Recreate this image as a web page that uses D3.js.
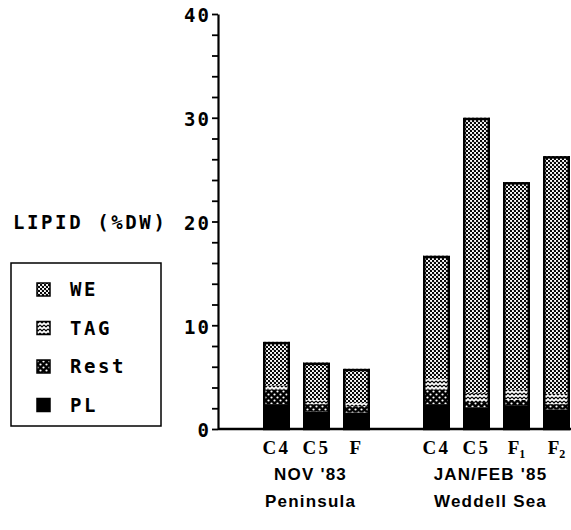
<!DOCTYPE html>
<html><head><meta charset="utf-8">
<script src="https://cdn.jsdelivr.net/npm/d3@7"></script>
<style>body{margin:0;background:#fff}</style>
</head><body>
<svg id="chart" width="571" height="530"></svg>
<script>
// Lipid composition (% dry weight) of copepodite stages
const barIds      = ["N-C4", "N-C5", "N-F", "W-C4", "W-C5", "W-F1", "W-F2"];
const stageLabels = ["C4", "C5", "F", "C4", "C5", "F1", "F2"];
const groupOf     = [0, 0, 0, 1, 1, 1, 1];
const groupLines  = [["NOV '83", "Peninsula"], ["JAN/FEB '85", "Weddell Sea"]];

const PL   = [2.4, 1.7, 1.6, 2.4, 2.1, 2.3, 1.9];
const Rest = [1.4, 0.7, 0.6, 1.4, 0.5, 0.5, 0.5];
const TAG  = [0.4, 0.4, 0.3, 1.0, 0.9, 1.0, 1.0];
const WE   = [4.2, 3.6, 3.3, 11.9, 26.5, 20.0, 22.9];

const yMajor = [0, 10, 20, 30, 40];
const yMinorStep = 2;
const legendKeys = ["WE", "TAG", "Rest", "PL"];
const stackKeys = ["PL", "Rest", "TAG", "WE"];

const svg = d3.select("#chart");
const MONO = "'DejaVu Sans Mono', 'Liberation Mono', monospace";

// fill patterns
const defs = svg.append("defs");
const pWE = defs.append("pattern").attr("id", "pat-WE").attr("patternUnits", "userSpaceOnUse")
  .attr("width", 4).attr("height", 4);
pWE.append("rect").attr("width", 4).attr("height", 4).attr("fill", "#fff");
pWE.append("circle").attr("cx", 1).attr("cy", 1).attr("r", 1.2).attr("fill", "#000");
pWE.append("circle").attr("cx", 3).attr("cy", 3).attr("r", 1.2).attr("fill", "#000");

const pTAG = defs.append("pattern").attr("id", "pat-TAG").attr("patternUnits", "userSpaceOnUse")
  .attr("width", 4).attr("height", 4);
pTAG.append("rect").attr("width", 4).attr("height", 4).attr("fill", "#fff");
pTAG.append("path").attr("d", "M0,1 L2,3 L4,1").attr("stroke", "#000").attr("stroke-width", 1.2).attr("fill", "none");

const pRest = defs.append("pattern").attr("id", "pat-Rest").attr("patternUnits", "userSpaceOnUse")
  .attr("width", 6).attr("height", 6);
pRest.append("rect").attr("width", 6).attr("height", 6).attr("fill", "#000");
pRest.append("circle").attr("cx", 1.5).attr("cy", 1.5).attr("r", 1.1).attr("fill", "#fff");
pRest.append("circle").attr("cx", 4.5).attr("cy", 4.5).attr("r", 1.1).attr("fill", "#fff");

const fills = { WE: "url(#pat-WE)", TAG: "url(#pat-TAG)", Rest: "url(#pat-Rest)", PL: "#000" };

// scales
const slots = barIds.slice(0, 3).concat(["gap"], barIds.slice(3));
const x = d3.scaleBand().domain(slots).range([263, 570]).paddingInner(0.325).paddingOuter(0);
const y = d3.scaleLinear().domain([0, 40]).range([429, 14]);
const axisX = 218;

const rows = barIds.map((id, i) => ({ id, PL: PL[i], Rest: Rest[i], TAG: TAG[i], WE: WE[i] }));
const series = d3.stack().keys(stackKeys)(rows);

// stacked segments
const g = svg.append("g");
series.forEach(s => {
  g.selectAll(null).data(s).join("rect")
    .attr("x", d => x(d.data.id))
    .attr("width", x.bandwidth())
    .attr("y", d => y(d[1]))
    .attr("height", d => y(d[0]) - y(d[1]))
    .attr("fill", fills[s.key]);
});
// heavy bar outlines
g.selectAll(null).data(series[series.length - 1]).join("rect")
  .attr("x", d => x(d.data.id) + 1.25)
  .attr("width", x.bandwidth() - 2.5)
  .attr("y", d => y(d[1]) + 1.25)
  .attr("height", d => y(0) - y(d[1]) - 1.25)
  .attr("fill", "none").attr("stroke", "#000").attr("stroke-width", 2.5);

// y axis with minor ticks
const yAxis = d3.axisLeft(y)
  .tickValues(d3.range(0, 41, yMinorStep))
  .tickSize(6).tickSizeOuter(0).tickPadding(1)
  .tickFormat(d => yMajor.includes(d) ? String(d) : "");
const ax = svg.append("g").attr("transform", `translate(${axisX},0)`).call(yAxis);
ax.select(".domain").attr("stroke", "#000").attr("stroke-width", 2.2);
ax.selectAll(".tick line").attr("stroke", "#000").attr("stroke-width", 1.8);
ax.selectAll(".tick text").attr("font-family", MONO).attr("font-weight", "bold")
  .attr("font-size", 19).attr("letter-spacing", 2).attr("dy", "0.42em").attr("fill", "#000");

// baseline
svg.append("line").attr("x1", axisX).attr("x2", 571).attr("y1", y(0)).attr("y2", y(0))
  .attr("stroke", "#000").attr("stroke-width", 2.5);

// y axis title
svg.append("text").attr("x", 13).attr("y", y(20) + 7)
  .attr("font-family", MONO).attr("font-weight", "bold").attr("font-size", 19)
  .attr("letter-spacing", 2.6).text("LIPID (%DW)");

// stage labels
const lab = svg.append("g").attr("font-family", "'Liberation Serif', serif").attr("font-weight", "bold")
  .attr("font-size", 19).attr("text-anchor", "middle");
barIds.forEach((id, i) => {
  const t = lab.append("text").attr("x", x(id) + x.bandwidth() / 2).attr("y", 454);
  const s = stageLabels[i];
  if (s.length === 2 && s[0] === "F") {
    t.append("tspan").text("F");
    t.append("tspan").attr("font-size", 12).attr("dy", 4).text(s[1]);
  } else {
    t.attr("letter-spacing", 2.5).text(s);
  }
});

// group labels
const grp = svg.append("g").attr("font-family", "'Liberation Sans', Arial, sans-serif")
  .attr("font-weight", "bold").attr("font-size", 17).attr("text-anchor", "middle");
groupLines.forEach((lines, gi) => {
  const ids = barIds.filter((_, i) => groupOf[i] === gi);
  const cx = d3.mean(ids, id => x(id) + x.bandwidth() / 2) - 6;
  lines.forEach((txt, li) => {
    grp.append("text").attr("x", cx).attr("y", 480 + li * 27)
      .attr("letter-spacing", 1.2).text(txt);
  });
});

// legend
const leg = svg.append("g");
leg.append("rect").attr("x", 11).attr("y", 263).attr("width", 150).attr("height", 163)
  .attr("fill", "#fff").attr("stroke", "#000").attr("stroke-width", 1.5);
legendKeys.forEach((k, i) => {
  const cy = 290 + i * 38.5;
  leg.append("rect").attr("x", 37).attr("y", cy - 7).attr("width", 13).attr("height", 13)
    .attr("fill", fills[k]).attr("stroke", "#000").attr("stroke-width", 1.5);
  leg.append("text").attr("x", 70).attr("y", cy + 6)
    .attr("font-family", MONO).attr("font-weight", "bold").attr("font-size", 19)
    .attr("letter-spacing", 2.6).text(k);
});
</script>
</body></html>
